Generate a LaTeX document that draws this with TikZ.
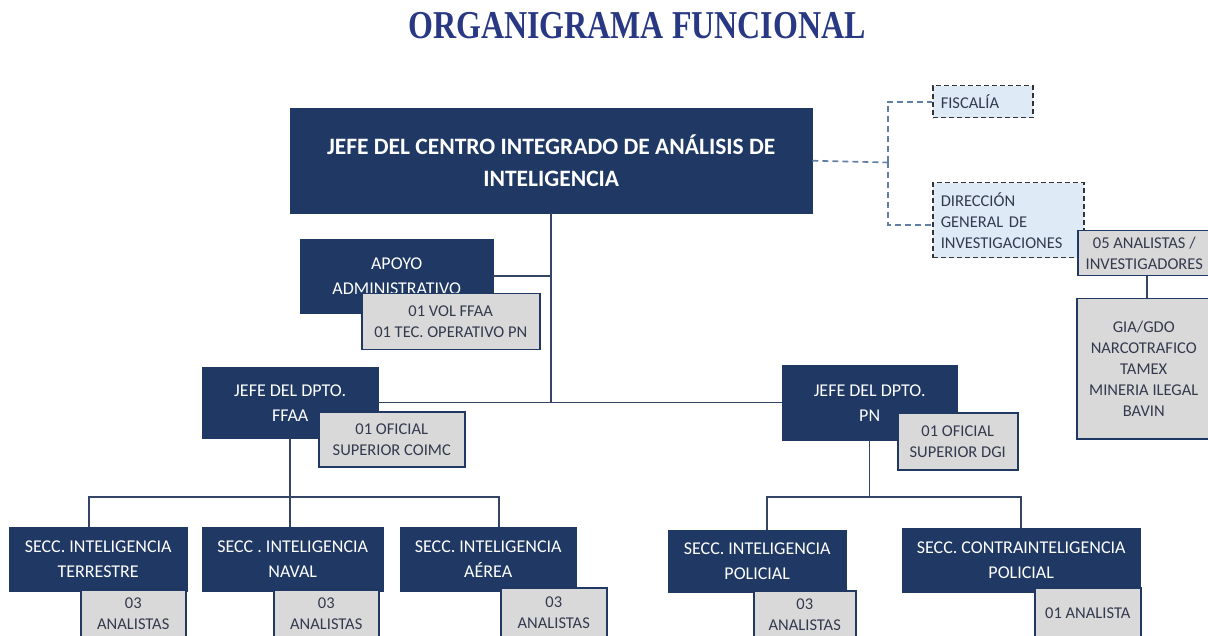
\documentclass[tikz,border=0pt]{standalone}
\usepackage{fontspec}
\setmainfont{Carlito}
\newfontfamily\titlefont[FakeStretch=0.81]{Liberation Serif}
\usepackage{xcolor}
\definecolor{navy}{RGB}{31,56,100}
\definecolor{linecol}{RGB}{52,68,100}
\definecolor{dashcol}{RGB}{96,126,166}
\definecolor{grayfill}{RGB}{217,217,217}
\definecolor{grayink}{RGB}{52,58,78}
\definecolor{paleblue}{RGB}{222,235,247}
\definecolor{titleblue}{RGB}{41,56,131}
\tikzstyle{chief} = [draw=navy, fill=navy, text=white, rectangle, anchor=north west, align=center, inner sep=0pt, font=\fontsize{18}{25}\selectfont]
\tikzstyle{staff} = [draw=navy, line width=1.5pt, fill=grayfill, text=grayink, rectangle, anchor=north west, align=center, inner sep=0pt, font=\fontsize{16.5}{21}\selectfont]
\tikzstyle{extern} = [draw=black!80, dash pattern=on 5pt off 3pt, line width=1.5pt, fill=paleblue, text=grayink, rectangle, anchor=north west, align=left, inner xsep=8pt, inner ysep=0pt, font=\fontsize{16.5}{21}\selectfont]
\tikzstyle{link} = [draw=linecol, line width=1.5pt]
\tikzstyle{dashlink} = [draw=dashcol, line width=1.6pt, dash pattern=on 6pt off 4pt]

\begin{document}
\begin{tikzpicture}[x=1pt, y=-1pt]
\useasboundingbox (0,0) rectangle (1208,636);
\node[text=titleblue, font=\titlefont\bfseries\fontsize{39.5}{42}\selectfont] (title) at (637,26) {ORGANIGRAMA FUNCIONAL};

% jefatura
\node[chief, minimum width=522pt, minimum height=105pt, font=\fontsize{23.5}{32}\selectfont\bfseries] (jefe) at (290,108) {JEFE DEL CENTRO INTEGRADO DE ANÁLISIS DE\\INTELIGENCIA};
\node[extern, minimum height=32pt, text width=84pt] (fisc) at (932,85) {FISCALÍA};
\node[extern, minimum height=75pt, text width=135pt] (dgi) at (932,182) {DIRECCIÓN\\GENERAL DE\\INVESTIGACIONES};
\node[staff, minimum width=133pt, minimum height=45pt] (ana) at (1077,230) {05 ANALISTAS /\\INVESTIGADORES};
\node[staff, minimum width=134pt, minimum height=140pt] (gia) at (1076,298) {GIA/GDO\\NARCOTRAFICO\\TAMEX\\MINERIA ILEGAL\\BAVIN};

% apoyo
\node[chief, minimum width=193pt, minimum height=74pt] (apoyo) at (300,239) {APOYO\\ADMINISTRATIVO};
\node[staff, minimum width=178pt, minimum height=56pt] (vol) at (361,293) {01 VOL FFAA\\01 TEC. OPERATIVO PN};

% departamentos
\node[chief, minimum width=176pt, minimum height=71pt] (ffaa) at (202,367) {JEFE DEL DPTO.\\FFAA};
\node[staff, minimum width=146pt, minimum height=55pt] (offaa) at (318,411) {01 OFICIAL\\SUPERIOR COIMC};
\node[chief, minimum width=175pt, minimum height=75pt] (pn) at (782,365) {JEFE DEL DPTO.\\PN};
\node[staff, minimum width=120pt, minimum height=57pt] (opn) at (897,412) {01 OFICIAL\\SUPERIOR DGI};

% secciones FFAA
\node[chief, minimum width=178pt, minimum height=64pt] (terr) at (9,527) {SECC. INTELIGENCIA\\TERRESTRE};
\node[staff, minimum width=105pt, minimum height=48pt] (aterr) at (80,589) {03\\ANALISTAS};
\node[chief, minimum width=181pt, minimum height=64pt] (nav) at (202,527) {SECC . INTELIGENCIA\\NAVAL};
\node[staff, minimum width=105pt, minimum height=48pt] (anav) at (273,589) {03\\ANALISTAS};
\node[chief, minimum width=176pt, minimum height=64pt] (aer) at (400,527) {SECC. INTELIGENCIA\\AÉREA};
\node[staff, minimum width=106pt, minimum height=50pt] (aaer) at (500,587) {03\\ANALISTAS};

% secciones PN
\node[chief, minimum width=178pt, minimum height=62pt] (pol) at (668,530) {SECC. INTELIGENCIA\\POLICIAL};
\node[staff, minimum width=102pt, minimum height=48pt] (apol) at (753,590) {03\\ANALISTAS};
\node[chief, minimum width=238pt, minimum height=64pt] (cont) at (902,528) {SECC. CONTRAINTELIGENCIA\\POLICIAL};
\node[staff, minimum width=106pt, minimum height=50pt] (acont) at (1034,587) {01 ANALISTA};

% conectores
\coordinate (split) at (888,162.5);
\draw[dashlink] (jefe.east) -- (split);
\draw[dashlink] (split) |- (fisc.west);
\draw[dashlink] (split) |- ([yshift=-5pt]dgi.west);
\draw[link] (ana.south -| 1147,0) -- (gia.north -| 1147,0);
\draw[link] (jefe.south) -- (jefe.south |- ffaa.east);
\draw[link] (apoyo.east) -- (apoyo.east -| jefe.south);
\draw[link] (ffaa.east) -- (pn.west);
\draw[link] (ffaa.south) -- (ffaa.south |- nav.north);
\draw[link] ([xshift=-9pt]terr.north) -- ++(0,-30) -| ([xshift=11pt]aer.north);
\draw[link] (pn.south) -- ++(0,57);
\draw[link] ([xshift=10pt]pol.north) -- ++(0,-33) -| (cont.north);
\end{tikzpicture}
\end{document}
